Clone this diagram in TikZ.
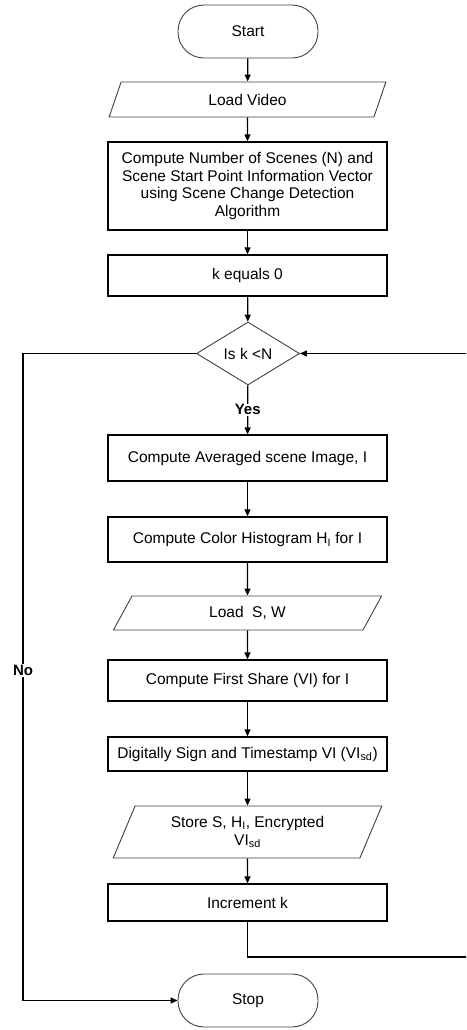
\documentclass[tikz,border=0pt]{standalone}
\usepackage{fontspec}
\setmainfont{Liberation Sans}
\usetikzlibrary{shapes.geometric,arrows.meta}
\tikzset{
	>={Triangle[length=7pt,width=6pt]},
	every node/.style={font=\fontsize{15.5}{17.8}\selectfont,align=center},
	procbox/.style={draw,line width=1.3pt,minimum width=279pt,inner sep=0pt},
	iobox/.style={draw=black!75,line width=.9pt,trapezium,trapezium left angle=#1,trapezium right angle=180-#1,trapezium stretches=true,minimum width=269pt,inner sep=0pt},
	termbox/.style={draw=black!75,line width=.9pt,rounded corners=26pt,minimum width=140pt,minimum height=53pt},
	decbox/.style={draw=black!75,line width=.9pt,diamond,minimum width=103pt,minimum height=63pt,inner sep=0pt,aspect=1.63},
	flow/.style={->,line width=1.2pt},
	lbl/.style={fill=white,font=\fontsize{15}{17}\selectfont\bfseries,inner sep=1pt}
}
\begin{document}
\begin{tikzpicture}[x=1pt,y=-1pt]
	\useasboundingbox (0,0) rectangle (466,1030);
	\clip (0,0) rectangle (466,1030);
	\node[termbox] (start) at (248,31.5) {Start};
	\node[iobox=72,minimum width=279pt,minimum height=35pt] (video) at (247.5,99.5) {Load Video};
	\node[procbox,minimum height=88pt] (scenes) at (247.5,186) {Compute Number of Scenes (N) and\\Scene Start Point Information Vector\\using Scene Change Detection\\Algorithm};
	\node[procbox,minimum height=41pt] (kzero) at (247.5,275.5) {k equals 0};
	\node[decbox] (check) at (248,353.5) {Is k <N};
	\node[procbox,minimum height=46pt] (avg) at (247.5,458) {Compute Averaged scene Image, I};
	\node[procbox,minimum height=45pt] (hist) at (247.5,539.5) {Compute Color Histogram H\textsubscript{I} for I};
	\node[iobox=65,minimum height=34pt] (loadsw) at (247.5,613) {Load\ \ S, W};
	\node[procbox,minimum height=41pt] (share) at (247.5,680.5) {Compute First Share (VI) for I};
	\node[procbox,minimum height=34pt] (sign) at (247.5,754) {Digitally Sign and Timestamp VI (VI\textsubscript{sd})};
	\node[iobox=65,minimum height=52pt] (store) at (247.5,832) {Store S, H\textsubscript{I}, Encrypted\\VI\textsubscript{sd}};
	\node[procbox,minimum height=37pt] (inc) at (247.5,902.5) {Increment k};
	\node[termbox] (stop) at (248,1000.5) {Stop};
	% corners of the loop lines
	\coordinate (rbot) at (476,957);
	\coordinate (rtop) at (476,353.5);
	\coordinate (ltop) at (23,353.5);
	\coordinate (lbot) at (23,1000.5);
	\draw[flow] (start) -- (video);
	\draw[flow] (video) -- (scenes);
	\draw[flow] (scenes) -- (kzero);
	\draw[flow] (kzero) -- (check);
	\draw[flow] (check) -- node[lbl] {Yes} (avg);
	\draw[flow] (avg) -- (hist);
	\draw[flow] (hist) -- (loadsw);
	\draw[flow] (loadsw) -- (share);
	\draw[flow] (share) -- (sign);
	\draw[flow] (sign) -- (store);
	\draw[flow] (store) -- (inc);
	\draw[flow] (inc.south) |- (rbot) -- (rtop) -- (check.east);
	\draw[flow] (check.west) -- (ltop) -- node[lbl,pos=.49] {No} (lbot) -- (stop.west);
\end{tikzpicture}
\end{document}
